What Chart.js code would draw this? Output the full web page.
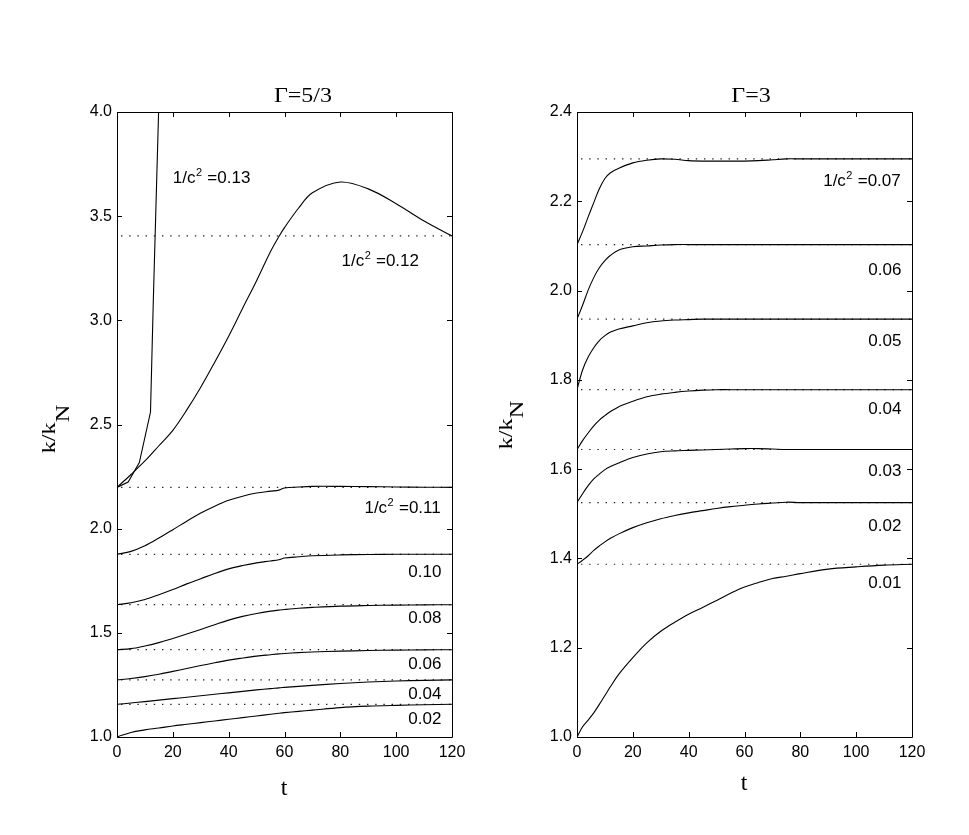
<!DOCTYPE html>
<html>
<head>
<meta charset="utf-8">
<script src="https://cdn.jsdelivr.net/npm/chart.js@4.4.0/dist/chart.umd.min.js"></script>
<style>
  body { margin: 0; background: #fff; }
  #wrap { position: relative; width: 969px; height: 835px; }
  canvas { position: absolute; top: 0; }
</style>
</head>
<body>
<div id="wrap">
  <canvas id="left-canvas" width="484" height="835" style="left:0"></canvas>
  <canvas id="right-canvas" width="485" height="835" style="left:484px"></canvas>
</div>
<script>
// ---- data: left panel (Gamma = 5/3) ----
var tLeft   = [0, 5, 10, 15, 20, 25, 30, 35, 40, 45, 50, 55, 58, 60, 65, 70, 80, 90, 100, 110, 120];
var kLeft002 = [1.000, 1.022, 1.034, 1.043, 1.053, 1.061, 1.069, 1.077, 1.085, 1.093, 1.101, 1.109, 1.114, 1.117, 1.123, 1.129, 1.141, 1.148, 1.152, 1.155, 1.157];
var kLeft004 = [1.157, 1.163, 1.170, 1.177, 1.184, 1.191, 1.198, 1.205, 1.212, 1.219, 1.226, 1.232, 1.236, 1.238, 1.243, 1.248, 1.257, 1.264, 1.269, 1.272, 1.274];
var kLeft006 = [1.274, 1.281, 1.290, 1.301, 1.315, 1.329, 1.343, 1.356, 1.369, 1.379, 1.388, 1.395, 1.399, 1.401, 1.405, 1.408, 1.412, 1.415, 1.417, 1.418, 1.419];
var kLeft008 = [1.419, 1.424, 1.437, 1.453, 1.473, 1.494, 1.516, 1.539, 1.561, 1.579, 1.593, 1.604, 1.609, 1.612, 1.618, 1.622, 1.628, 1.631, 1.633, 1.634, 1.635];
var kLeft010 = [1.635, 1.644, 1.660, 1.683, 1.708, 1.735, 1.760, 1.785, 1.807, 1.823, 1.836, 1.845, 1.851, 1.859, 1.865, 1.870, 1.874, 1.876, 1.877, 1.877, 1.877];
var kLeft011 = [1.877, 1.891, 1.918, 1.955, 1.995, 2.036, 2.075, 2.108, 2.136, 2.156, 2.171, 2.180, 2.185, 2.195, 2.200, 2.203, 2.203, 2.202, 2.200, 2.199, 2.198];
var kLeft012 = [2.198, 2.260, 2.325, 2.398, 2.472, 2.570, 2.679, 2.799, 2.924, 3.058, 3.190, 3.330, 3.402, 3.445, 3.538, 3.612, 3.664, 3.631, 3.560, 3.477, 3.405];
var tLeft013 = [0, 4, 8, 12, 13, 14.9];
var kLeft013 = [2.198, 2.224, 2.317, 2.560, 3.090, 4.000];
var levelsLeft = [3.405, 2.198, 1.877, 1.635, 1.419, 1.274, 1.157];

// ---- data: right panel (Gamma = 3) ----
var tRight   = [0, 2, 4, 6, 8, 10, 12, 15, 20, 25, 30, 35, 40, 45, 50, 55, 60, 65, 70, 75, 80, 90, 100, 110, 120];
var kRight007 = [2.103, 2.132, 2.165, 2.197, 2.228, 2.251, 2.264, 2.274, 2.286, 2.292, 2.295, 2.294, 2.291, 2.290, 2.290, 2.290, 2.290, 2.291, 2.293, 2.295, 2.295, 2.295, 2.295, 2.295, 2.295];
var kRight006 = [1.936, 1.967, 2.001, 2.029, 2.051, 2.067, 2.079, 2.091, 2.098, 2.100, 2.102, 2.103, 2.103, 2.103, 2.103, 2.103, 2.103, 2.103, 2.103, 2.103, 2.103, 2.103, 2.103, 2.103, 2.103];
var kRight005 = [1.778, 1.822, 1.851, 1.872, 1.888, 1.899, 1.907, 1.914, 1.921, 1.928, 1.932, 1.934, 1.935, 1.936, 1.936, 1.936, 1.936, 1.936, 1.936, 1.936, 1.936, 1.936, 1.936, 1.936, 1.936];
var kRight004 = [1.644, 1.664, 1.681, 1.697, 1.710, 1.720, 1.729, 1.740, 1.752, 1.762, 1.768, 1.772, 1.775, 1.777, 1.778, 1.778, 1.778, 1.778, 1.778, 1.778, 1.778, 1.778, 1.778, 1.778, 1.778];
var kRight003 = [1.525, 1.545, 1.563, 1.578, 1.589, 1.599, 1.606, 1.614, 1.626, 1.634, 1.639, 1.641, 1.642, 1.643, 1.644, 1.645, 1.646, 1.646, 1.645, 1.644, 1.644, 1.644, 1.644, 1.644, 1.644];
var kRight002 = [1.387, 1.396, 1.406, 1.418, 1.428, 1.437, 1.445, 1.455, 1.469, 1.480, 1.489, 1.496, 1.502, 1.507, 1.512, 1.516, 1.519, 1.522, 1.524, 1.526, 1.525, 1.525, 1.525, 1.525, 1.525];
var kRight001 = [1.000, 1.023, 1.038, 1.054, 1.073, 1.093, 1.113, 1.141, 1.178, 1.211, 1.237, 1.257, 1.275, 1.290, 1.306, 1.322, 1.336, 1.346, 1.355, 1.360, 1.366, 1.376, 1.381, 1.385, 1.387];
var levelsRight = [2.295, 2.103, 1.936, 1.778, 1.644, 1.525, 1.387];

// ---- tick labels ----
var xTicks = [0, 20, 40, 60, 80, 100, 120];
var yTicksLeft = [1.0, 1.5, 2.0, 2.5, 3.0, 3.5, 4.0];
var yTicksRight = [1.0, 1.2, 1.4, 1.6, 1.8, 2.0, 2.2, 2.4];

// curve labels (text + where they sit, in data units)
var notesLeft = [
  {pre: '1/c', sup: '2', post: ' =0.13', t: 20, k: 3.687, align: 'left'},
  {pre: '1/c', sup: '2', post: ' =0.12', t: 80.4, k: 3.288, align: 'left'},
  {pre: '1/c', sup: '2', post: ' =0.11', t: 115.6, k: 2.104, align: 'right'},
  {pre: '0.10', t: 116.2, k: 1.795, align: 'right'},
  {pre: '0.08', t: 116.2, k: 1.576, align: 'right'},
  {pre: '0.06', t: 116.2, k: 1.355, align: 'right'},
  {pre: '0.04', t: 116.2, k: 1.213, align: 'right'},
  {pre: '0.02', t: 116.2, k: 1.093, align: 'right'}
];
var notesRight = [
  {pre: '1/c', sup: '2', post: ' =0.07', t: 115.6, k: 2.247, align: 'right'},
  {pre: '0.06', t: 116.2, k: 2.049, align: 'right'},
  {pre: '0.05', t: 116.2, k: 1.890, align: 'right'},
  {pre: '0.04', t: 116.2, k: 1.737, align: 'right'},
  {pre: '0.03', t: 116.2, k: 1.599, align: 'right'},
  {pre: '0.02', t: 116.2, k: 1.476, align: 'right'},
  {pre: '0.01', t: 116.2, k: 1.347, align: 'right'}
];

var SANS = '"Liberation Sans", Arial, Helvetica, sans-serif';
var SERIF = '"Liberation Serif", "Times New Roman", serif';

function pts(ts, ks) {
  return ts.map(function(t, i) { return {x: t, y: ks[i]}; });
}

function curve(ts, ks, smooth) {
  return {
    data: pts(ts, ks),
    borderColor: '#000',
    borderWidth: 1.1,
    pointRadius: 0,
    fill: false,
    tension: smooth ? 0.35 : 0
  };
}

function dotted(level) {
  return {
    data: [{x: 0, y: level}, {x: 120, y: level}],
    borderColor: '#222',
    borderWidth: 1.2,
    borderDash: [1.4, 6.8],
    borderDashOffset: -4,
    pointRadius: 0,
    fill: false
  };
}

function drawNote(ctx, n, x, y) {
  var mainFont = '17px ' + SANS, supFont = '11px ' + SANS;
  ctx.font = mainFont;
  var w1 = ctx.measureText(n.pre).width;
  var w3 = n.post ? ctx.measureText(n.post).width : 0;
  ctx.font = supFont;
  var w2 = n.sup ? ctx.measureText(n.sup).width : 0;
  var x0 = n.align === 'right' ? x - (w1 + w2 + w3) : x;
  ctx.textAlign = 'left';
  ctx.textBaseline = 'alphabetic';
  ctx.font = mainFont;
  ctx.fillText(n.pre, x0, y);
  if (n.sup) {
    ctx.font = supFont;
    ctx.fillText(n.sup, x0 + w1 + 0.5, y - 7);
    ctx.font = mainFont;
    ctx.fillText(n.post, x0 + w1 + w2 + 1, y);
  }
}

// box, inward ticks, titles and curve labels
var framePlugin = {
  id: 'frame',
  afterDraw: function(chart, args, opts) {
    var ctx = chart.ctx, a = chart.chartArea;
    var xs = chart.scales.x, ys = chart.scales.y;
    ctx.save();
    ctx.strokeStyle = '#000';
    ctx.lineWidth = 1;
    ctx.beginPath();
    ctx.rect(Math.round(a.left) + 0.5, Math.round(a.top) + 0.5,
             Math.round(a.right - a.left), Math.round(a.bottom - a.top));
    ctx.stroke();
    var L = 5;
    ctx.beginPath();
    xs.ticks.forEach(function(tk) {
      var px = Math.round(xs.getPixelForValue(tk.value)) + 0.5;
      ctx.moveTo(px, a.bottom); ctx.lineTo(px, a.bottom - L);
      ctx.moveTo(px, a.top); ctx.lineTo(px, a.top + L);
    });
    ys.ticks.forEach(function(tk) {
      var py = Math.round(ys.getPixelForValue(tk.value)) + 0.5;
      ctx.moveTo(a.left, py); ctx.lineTo(a.left + L, py);
      ctx.moveTo(a.right, py); ctx.lineTo(a.right - L, py);
    });
    ctx.stroke();

    ctx.fillStyle = '#000';
    // panel title
    ctx.save();
    ctx.translate(opts.titleX, 102);
    ctx.scale(1.2, 1);
    ctx.font = '20px ' + SERIF;
    ctx.textAlign = 'center';
    ctx.textBaseline = 'alphabetic';
    ctx.fillText(opts.title, 0, 0);
    ctx.restore();

    // x axis title
    ctx.font = '24px ' + SERIF;
    ctx.textAlign = 'center';
    ctx.fillText('t', opts.tX, opts.tY);

    // y axis title k/k_N
    ctx.save();
    ctx.translate(opts.kX, opts.kY);
    ctx.rotate(-Math.PI / 2);
    ctx.scale(1.35, 1);
    ctx.font = '18px ' + SERIF;
    var wa = ctx.measureText('k/k').width, wb = ctx.measureText('N').width;
    var sx = -(wa + wb) / 2;
    ctx.textAlign = 'left';
    ctx.fillText('k/k', sx, 0);
    ctx.fillText('N', sx + wa, opts.subDy);
    ctx.restore();

    opts.notes.forEach(function(n) {
      var x = xs.getPixelForValue(n.t);
      var y = ys.getPixelForValue(n.k) + 6;
      drawNote(ctx, n, x, y);
    });
    ctx.restore();
  }
};

function makeChart(id, datasets, yMin, yMax, yTicks, yWidth, padRight, frameOpts) {
  var ctx = document.getElementById(id).getContext('2d');
  return new Chart(ctx, {
    type: 'line',
    data: {datasets: datasets},
    options: {
      responsive: false,
      animation: false,
      layout: {padding: {top: 112, right: padRight, left: 0, bottom: 0}},
      plugins: {legend: {display: false}, tooltip: {enabled: false}, frame: frameOpts},
      scales: {
        x: {
          type: 'linear', min: 0, max: 120,
          afterBuildTicks: function(s) { s.ticks = xTicks.map(function(v) { return {value: v}; }); },
          afterFit: function(s) { s.height = 98; },
          grid: {display: false, drawTicks: false},
          border: {display: false},
          ticks: {color: '#000', padding: 6, font: {family: SANS, size: 16},
                  callback: function(v) { return String(v); }}
        },
        y: {
          type: 'linear', min: yMin, max: yMax,
          afterBuildTicks: function(s) { s.ticks = yTicks.map(function(v) { return {value: v}; }); },
          afterFit: function(s) { s.width = yWidth; },
          grid: {display: false, drawTicks: false},
          border: {display: false},
          ticks: {color: '#000', padding: 5, font: {family: SANS, size: 16},
                  callback: function(v) { return Number(v).toFixed(1); }}
        }
      }
    },
    plugins: [framePlugin]
  });
}

var leftSets = [
  curve(tLeft, kLeft002, true), curve(tLeft, kLeft004, true), curve(tLeft, kLeft006, true),
  curve(tLeft, kLeft008, true), curve(tLeft, kLeft010, true), curve(tLeft, kLeft011, true),
  curve(tLeft, kLeft012, true), curve(tLeft013, kLeft013, false)
].concat(levelsLeft.map(dotted));

var rightSets = [
  curve(tRight, kRight007, true), curve(tRight, kRight006, true), curve(tRight, kRight005, true),
  curve(tRight, kRight004, true), curve(tRight, kRight003, true), curve(tRight, kRight002, true),
  curve(tRight, kRight001, true)
].concat(levelsRight.map(dotted));

makeChart('left-canvas', leftSets, 1.0, 4.0, yTicksLeft, 117, 32,
  {title: '\u0393=5/3', titleX: 303, tX: 284, tY: 795, kX: 55, kY: 429, subDy: 14, notes: notesLeft});
makeChart('right-canvas', rightSets, 1.0, 2.4, yTicksRight, 93, 57,
  {title: '\u0393=3', titleX: 267, tX: 260, tY: 790, kX: 28, kY: 425, subDy: 11, notes: notesRight});
</script>
</body>
</html>
